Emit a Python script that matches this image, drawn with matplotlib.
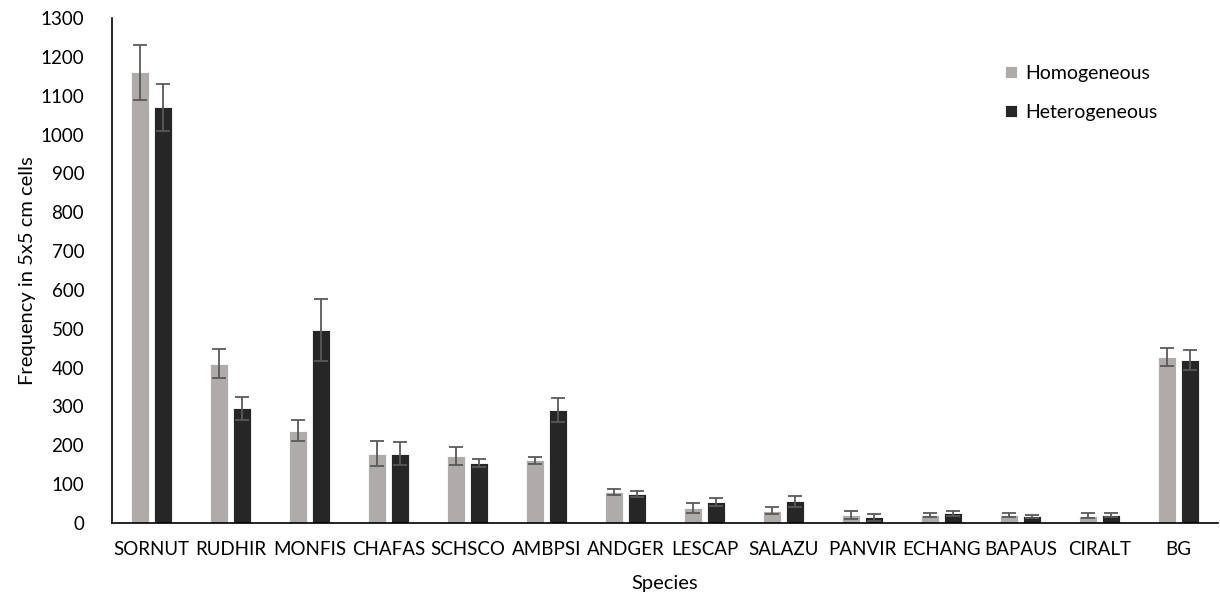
import numpy as np
import matplotlib.pyplot as plt

plt.rcParams['font.family'] = ['Lato', 'DejaVu Sans']

species = ['SORNUT', 'RUDHIR', 'MONFIS', 'CHAFAS', 'SCHSCO', 'AMBPSI', 'ANDGER',
           'LESCAP', 'SALAZU', 'PANVIR', 'ECHANG', 'BAPAUS', 'CIRALT', 'BG']
homo = [1160, 410, 238, 178, 172, 162, 80, 39, 32, 21, 20, 20, 19, 428]
homo_err = [70, 38, 27, 32, 23, 9, 8, 12, 10, 10, 5, 5, 6, 23]
hetero = [1070, 295, 497, 178, 155, 292, 75, 54, 56, 15, 25, 17, 21, 420]
hetero_err = [60, 29, 80, 30, 10, 31, 7, 11, 14, 9, 6, 3, 5, 26]

fig = plt.figure(figsize=(12.2, 5.96), dpi=100)
ax = fig.add_axes([0.0918, 0.1225, 0.9066, 0.8473])

x = np.arange(len(species))
w = 0.225
off = 0.145
# grey whiskers with short caps
err_kw = dict(ecolor='#595959', elinewidth=1.3, capsize=5, capthick=1.3)
ax.bar(x - off, homo, w, yerr=homo_err, color='#AFABAB', label='Homogeneous',
       edgecolor='white', linewidth=0.6, error_kw=err_kw)
ax.bar(x + off, hetero, w, yerr=hetero_err, color='#262626', label='Heterogeneous',
       edgecolor='white', linewidth=0.6, error_kw=err_kw)

ax.set_xlim(-0.5, len(species) - 0.5)
ax.set_ylim(0, 1300)
ax.set_yticks(range(0, 1301, 100))
ax.set_xticks(x)
ax.set_xticklabels(species)
ax.tick_params(axis='both', length=0, labelsize=13.5, colors='black')
ax.tick_params(axis='x', pad=13)
ax.tick_params(axis='y', pad=20)

for s in ['top', 'right']:
    ax.spines[s].set_visible(False)
for s in ['left', 'bottom']:
    ax.spines[s].set_color('black')
    ax.spines[s].set_linewidth(1.2)

ax.set_xlabel('Species', fontsize=14.5, labelpad=12)
ax.set_ylabel('Frequency in 5x5 cm cells', fontsize=14.5, labelpad=3)

ax.legend(loc='upper left', bbox_to_anchor=(0.792, 0.942), frameon=False, fontsize=14,
          handlelength=0.6, handleheight=0.6, handletextpad=0.4, labelspacing=1.15)

fig.savefig('out.png', dpi=100)
